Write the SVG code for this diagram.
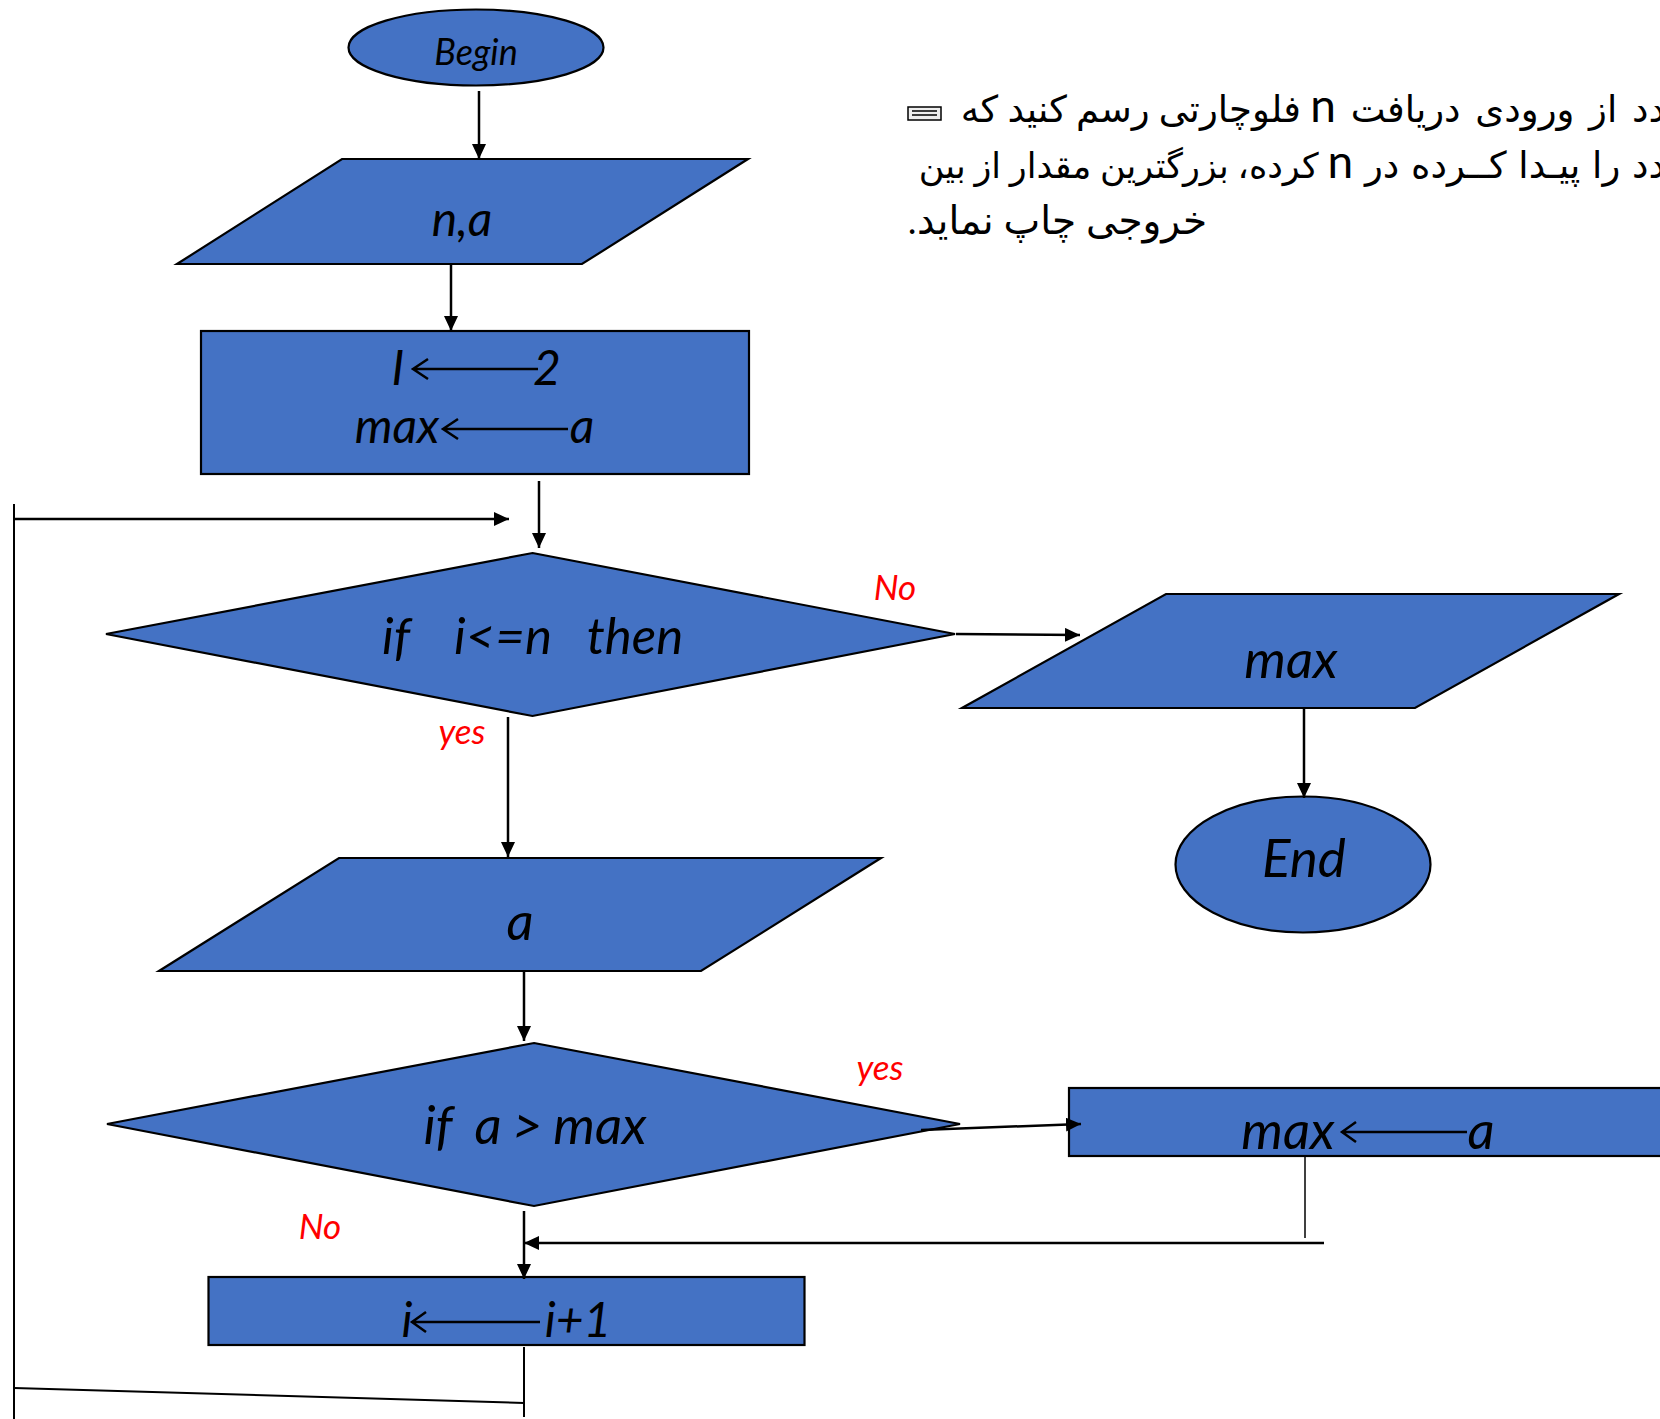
<svg xmlns="http://www.w3.org/2000/svg" width="1660" height="1419" viewBox="0 0 1660 1419">
<style>
.s{fill:#4472c4;stroke:#000;stroke-width:2.2}
.t{font-family:"Lato","Open Sans",sans-serif;font-style:italic;fill:#000;font-size:48px;text-anchor:middle}
.b{font-size:53px}
.r{font-family:"Lato","Open Sans",sans-serif;font-style:italic;fill:#f00;font-size:35px;text-anchor:middle}
.c{fill:none;stroke:#000;stroke-width:2.5}
.a{marker-end:url(#h)}
.p{font-family:"Liberation Serif","DejaVu Sans",serif;font-size:37px;fill:#000}
.n{font-family:"Lato",sans-serif;font-size:46px}
</style>
<defs>
<marker id="h" markerUnits="userSpaceOnUse" markerWidth="15" markerHeight="14" refX="15" refY="7" orient="auto"><path d="M0 0L15 7L0 14Z" fill="#000"/></marker>
</defs>
<rect width="1660" height="1419" fill="#fff"/>
<g id="note">
<text class="p" direction="rtl" x="1690" y="122" xml:space="preserve"><tspan word-spacing="5.5">عدد از ورودی دریافت </tspan><tspan class="n">n</tspan> فلوچارتی رسم کنید که</text>
<text class="p" direction="rtl" x="1690" y="178" xml:space="preserve"><tspan word-spacing="2.5">عدد را پیـدا کــرده در </tspan><tspan class="n">n</tspan><tspan style="font-size:35px"> کرده، بزرگترین مقدار از بین</tspan></text>
<text class="p" style="font-size:39px" direction="rtl" x="1207" y="234">خروجی چاپ نماید.</text>
<g class="c" style="stroke-width:1.5"><rect x="908" y="107" width="33" height="13" fill="#eee"/><path d="M912 111H937M912 115H937"/></g>
</g>
<g id="begin"><ellipse class="s" cx="476" cy="47.5" rx="127.5" ry="38"/><text class="t" style="font-size:36px" x="476" y="65">Begin</text></g>
<g id="input-na"><path class="s" d="M342 159H748L582 264H177Z"/><text class="t" x="462" y="236">n,a</text></g>
<g id="init"><rect class="s" x="201" y="331" width="548" height="143"/>
<text class="t" x="398" y="385">I</text><text class="t" x="547" y="385">2</text>
<text class="t" x="397" y="443">max</text><text class="t" x="582" y="443">a</text>
<path class="c" d="M538 369H413M428 359L413 369L428 379M568 429H443M458 419L443 429L458 439"/></g>
<g id="cond1"><path class="s" d="M532.5 553L955 634L532.5 716L106 634Z"/><text class="t b" style="font-size:51px" x="396" y="654">if</text><text class="t b" style="font-size:51px" x="503" y="654">i&lt;=n</text><text class="t b" style="font-size:51px" x="635" y="654">then</text></g>
<g id="output-max"><path class="s" d="M1166 594H1619L1415 708H962Z"/><text class="t b" x="1291" y="678">max</text></g>
<g id="end"><ellipse class="s" cx="1303" cy="864.5" rx="127.5" ry="68"/><text class="t b" x="1304" y="877">End</text></g>
<g id="input-a"><path class="s" d="M339 858H881L701 971H159Z"/><text class="t b" x="520" y="940">a</text></g>
<g id="cond2"><path class="s" d="M534 1043L960 1124L534 1206L107 1124Z"/><text class="t b" x="438" y="1144">if</text><text class="t b" x="488" y="1144">a</text><text class="t b" x="527" y="1144">&gt;</text><text class="t b" x="600" y="1144">max</text></g>
<g id="update-max"><rect class="s" x="1069" y="1088" width="600" height="68"/><text class="t b" x="1288" y="1149">max</text><text class="t b" x="1481" y="1149">a</text><path class="c" d="M1467 1132H1342M1356 1122L1342 1132L1356 1142"/></g>
<g id="incr"><rect class="s" x="208.5" y="1277" width="596" height="68"/><text class="t" x="407" y="1337">i</text><text class="t" x="578" y="1337">i+1</text><path class="c" d="M540 1322H412M426 1312L412 1322L426 1332"/></g>
<g id="connectors">
<path class="c a" d="M479 91V159"/>
<path class="c a" d="M451 264V331"/>
<path class="c a" d="M539 481V548"/>
<path class="c a" d="M14 519H509"/>
<path class="c a" d="M956 634L1080 635"/>
<path class="c a" d="M1304 708V798"/>
<path class="c a" d="M508 717V857"/>
<path class="c a" d="M524 971V1041"/>
<path class="c a" d="M921 1130L1081 1124"/>
<path class="c a" d="M524 1211V1279"/>
<path class="c a" d="M1324 1243H524"/>
<path class="c" d="M1305 1156V1238" style="stroke-width:1.5"/>
<path class="c" d="M14 504V1419" style="stroke-width:2"/>
<path class="c" d="M524 1347V1417" style="stroke-width:2"/>
<path class="c" d="M14 1388L524 1403" style="stroke-width:2"/>
</g>
<g id="labels">
<text class="r" x="895" y="600">No</text>
<text class="r" x="462" y="744">yes</text>
<text class="r" x="880" y="1080">yes</text>
<text class="r" x="320" y="1239">No</text>
</g>
</svg>
